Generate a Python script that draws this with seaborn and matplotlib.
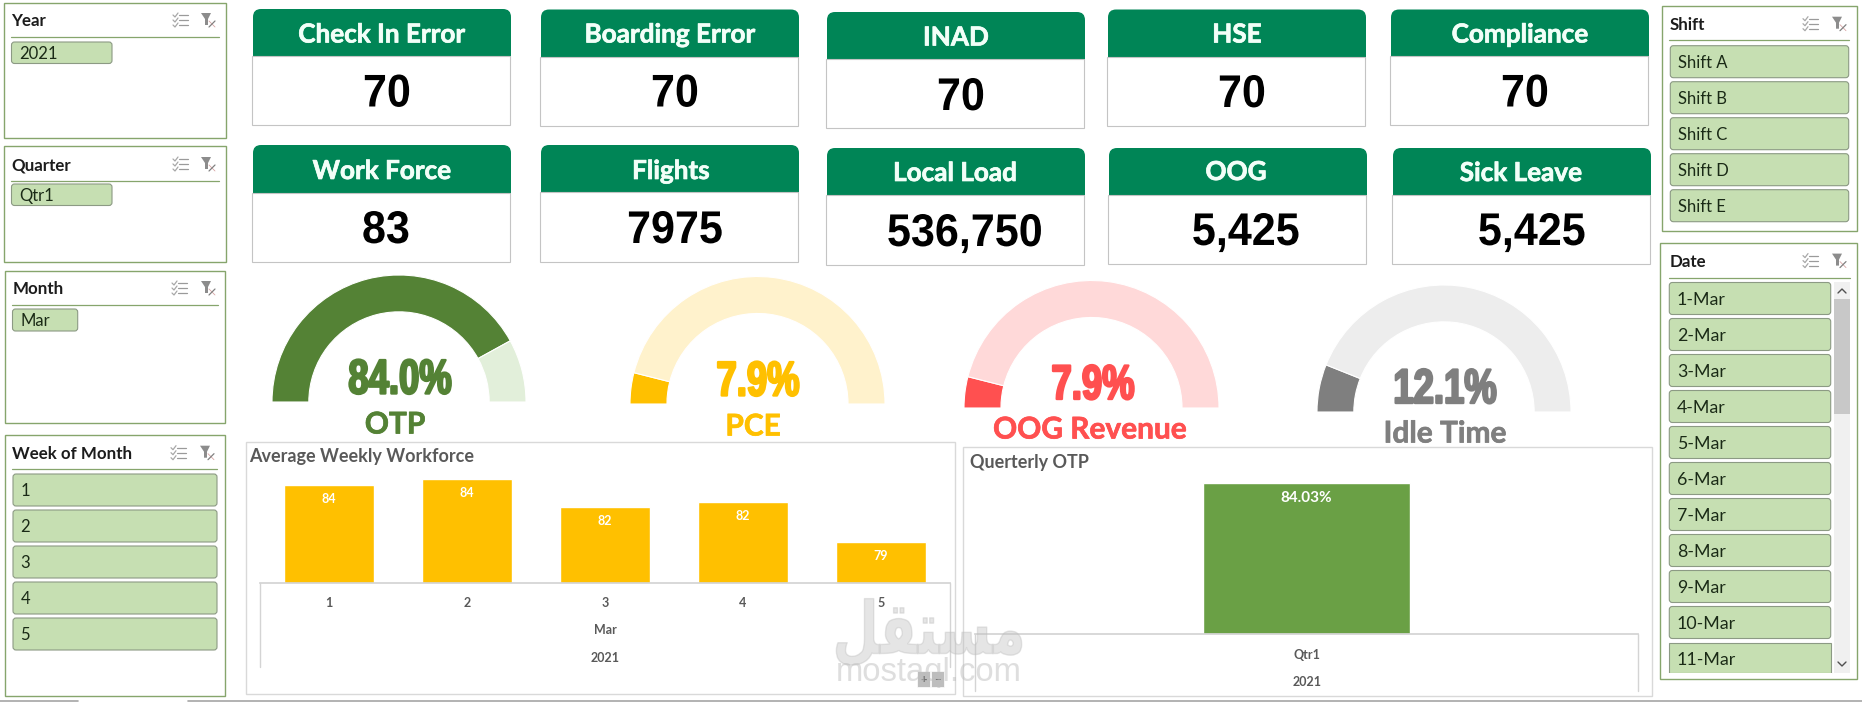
import matplotlib
matplotlib.use("Agg")
import matplotlib.pyplot as plt
from matplotlib import patheffects as pe
from matplotlib.patches import FancyBboxPatch, Rectangle, Polygon
from matplotlib.transforms import Affine2D
import seaborn as sns

# KPI cards
card_titles = ["Check In Error", "Boarding Error", "INAD", "HSE", "Compliance",
               "Work Force", "Flights", "Local Load", "OOG", "Sick Leave"]
card_values = ["70", "70", "70", "70", "70", "83", "7975", "536,750", "5,425", "5,425"]

# Half-doughnut gauges
gauge_names = ["OTP", "PCE", "OOG Revenue", "Idle Time"]
gauge_percent = [84.0, 7.9, 7.9, 12.1]

# Average Weekly Workforce
weeks = ["1", "2", "3", "4", "5"]
weekly_workforce = [83.9, 84.4, 82.0, 82.4, 79.0]

# Querterly OTP
quarters = ["Qtr1"]
quarterly_otp = [84.03]

# Slicers
year_items = ["2021"]
quarter_items = ["Qtr1"]
month_items = ["Mar"]
week_items = ["1", "2", "3", "4", "5"]
shift_items = ["Shift A", "Shift B", "Shift C", "Shift D", "Shift E"]
date_items = ["1-Mar", "2-Mar", "3-Mar", "4-Mar", "5-Mar", "6-Mar", "7-Mar",
              "8-Mar", "9-Mar", "10-Mar", "11-Mar"]

W, H = 1862, 702
GREEN = "#008556"
BTN = "#C6DFB2"
BTN_EDGE = "#8C9A84"
SLICER_EDGE = "#86A56C"
GRID = "#D4D4D4"
TXT = "#595959"
ARIAL = "Liberation Sans"


class Condensed(pe.AbstractPathEffect):
    """Narrow the glyph outlines about a vertical line, with an optional outline weight."""

    def __init__(self, factor, centre_px, stroke=0.0):
        super().__init__()
        self.factor = factor
        self.centre_px = centre_px
        self.stroke = stroke

    def draw_path(self, renderer, gc, tpath, affine, rgbFace=None):
        squeeze = Affine2D().translate(-self.centre_px, 0).scale(self.factor, 1).translate(self.centre_px, 0)
        gc0 = renderer.new_gc()
        gc0.copy_properties(gc)
        if self.stroke:
            gc0.set_foreground(rgbFace)
            gc0.set_linewidth(self.stroke)
        renderer.draw_path(gc0, tpath, affine + squeeze, rgbFace)
        gc0.restore()


sns.set_theme(style="white")
plt.rcParams["font.family"] = ["Lato", "DejaVu Sans"]

fig = plt.figure(figsize=(W / 100, H / 100), dpi=100, facecolor="white")
page = fig.add_axes([0, 0, 1, 1], zorder=0)
page.set_xlim(0, W)
page.set_ylim(H, 0)
page.axis("off")


def px_axes(x0, y0, x1, y1, zorder=2):
    """Axes placed by its pixel box, y measured from the top."""
    ax = fig.add_axes([x0 / W, 1 - y1 / H, (x1 - x0) / W, (y1 - y0) / H], zorder=zorder)
    ax.patch.set_alpha(0)
    return ax


def frame(x0, y0, x1, y1, ec, lw=1.0, fc="white", z=1):
    page.add_patch(Rectangle((x0, y0), x1 - x0, y1 - y0, fc=fc, ec=ec, lw=lw, zorder=z))


def rounded(x0, y0, x1, y1, fc, ec="none", lw=0.8, r=3, z=2):
    page.add_patch(FancyBboxPatch((x0 + r, y0 + r), x1 - x0 - 2 * r, y1 - y0 - 2 * r,
                                  boxstyle=f"round,pad={r},rounding_size={r}",
                                  fc=fc, ec=ec, lw=lw, zorder=z))


def slicer_icons(x1, x2, y):
    # multi-select toggle
    for dy in (-5, 0, 5):
        page.plot([x1 - 2, x1 + 7], [y + dy, y + dy], color="#9A9A9A", lw=0.9, zorder=3)
        page.plot([x1 - 8, x1 - 6, x1 - 3], [y + dy, y + dy + 2, y + dy - 2],
                  color="#A8A8A8", lw=0.9, zorder=3)
    # clear-filter funnel
    page.add_patch(Polygon([(x2 - 7, y - 7), (x2 + 3, y - 7), (x2, y - 1), (x2, y + 5), (x2 - 3, y + 5), (x2 - 3, y - 1)],
                           fc="#8C8C8C", ec="none", zorder=3))
    page.plot([x2 + 1, x2 + 7], [y + 1, y + 7], color="#B04A4A", lw=0.6, alpha=.5, zorder=3)
    page.plot([x2 + 1, x2 + 7], [y + 7, y + 1], color="#808080", lw=0.9, zorder=3)


def slicer(box, title, title_y, rule_y, rule_x, icon_x, items, btn_x, btn_y0,
           btn_h=32, step=36, tx_off=7.5, clip_y=None, title_size=12.2, item_size=12.0):
    x0, y0, x1, y1 = box
    frame(x0, y0, x1, y1, SLICER_EDGE, lw=1.0)
    page.text(rule_x[0] + 0.5, title_y + 1.5, title, fontsize=title_size, fontweight="bold", color="#1C1C1C",
              va="center", ha="left", zorder=3)
    page.plot(rule_x, [rule_y, rule_y], color=SLICER_EDGE, lw=0.9, zorder=3)
    slicer_icons(icon_x[0], icon_x[1], title_y)
    for i, label in enumerate(items):
        top = btn_y0 + i * step
        bottom = top + btn_h
        if clip_y is not None and bottom > clip_y:
            # the last visible button is cut by the list window
            page.add_patch(Rectangle((btn_x[0], top), btn_x[1] - btn_x[0], clip_y - top,
                                     fc=BTN, ec=BTN_EDGE, lw=0.8, zorder=2))
            page.add_patch(Rectangle((btn_x[0] - 1, clip_y), btn_x[1] - btn_x[0] + 2, 3,
                                     fc="white", ec="none", zorder=2.5))
        else:
            rounded(btn_x[0], top, btn_x[1], bottom, BTN, BTN_EDGE)
        page.text(btn_x[0] + tx_off, (top + bottom) / 2 + 1.5, label, fontsize=item_size,
                  color="#1A2A16", va="center", ha="left", zorder=3)


# Left-hand slicers
slicer((3.5, 3, 226, 138), "Year", 20, 37.3, (11, 219), (181, 208), year_items, (11.5, 112), 42, btn_h=21.5)
slicer((3.5, 146, 226, 262), "Quarter", 164, 181.3, (11, 219), (181, 208), quarter_items, (11.5, 112), 184, btn_h=21.5)
slicer((4.5, 271, 225, 423), "Month", 288, 305, (12, 218), (180, 208), month_items, (12.5, 77.7), 309, btn_h=22)
slicer((4.5, 435, 224.5, 696), "Week of Month", 452.7, 469, (12, 217), (179, 207), week_items, (13, 217), 474)

# Right-hand slicers
slicer((1661.7, 6.3, 1856.7, 231.5), "Shift", 23.7, 40.3, (1669, 1849), (1811, 1839), shift_items, (1670.3, 1848.7), 45.7)
slicer((1660, 242.7, 1857, 679), "Date", 260.6, 277.6, (1669, 1850), (1811, 1839), date_items, (1669.3, 1830.7), 282.5,
       clip_y=673, item_size=12.8)

# Date list scrollbar
page.add_patch(Rectangle((1834, 282), 16, 391, fc="#F0F0F0", ec="none", zorder=2))
page.add_patch(Rectangle((1834, 299), 16, 115, fc="#C8C8C8", ec="none", zorder=2.2))
page.plot([1838, 1842, 1846], [293, 289, 293], color="#505050", lw=1.0, zorder=3)
page.plot([1838, 1842, 1846], [662, 666, 662], color="#505050", lw=1.0, zorder=3)

# KPI card boxes: x0, x1, header top, header bottom, body bottom
card_boxes = [
    (253, 511, 9, 56, 125), (541, 799, 9.5, 57, 126), (827, 1085, 12, 59, 128),
    (1108, 1366, 9.5, 57, 126), (1391, 1649, 9.5, 56, 125),
    (253, 511, 145, 193, 262), (541, 799, 145, 192, 262), (827, 1085, 148, 195, 265),
    (1109, 1367, 148, 195, 264), (1393, 1651, 148, 195, 264),
]
title_pos = [(382, 34.5), (670, 34.5), (956, 37.5), (1237, 34.5), (1520, 34.5),
             (382, 171), (671, 171), (955, 173), (1236, 172), (1521, 173)]
value_pos = [(387, 94.5), (675, 94.5), (961, 98), (1242, 95), (1525, 94.5),
             (386, 231), (675, 231), (965, 234), (1246, 233), (1532, 233)]

for box, title, value, tp, vp in zip(card_boxes, card_titles, card_values, title_pos, value_pos):
    x0, x1, yt, ym, yb = box
    rounded(x0, yt, x1, ym + 8, GREEN, r=8, z=1.5)
    page.add_patch(Rectangle((x0 - 1, ym), x1 - x0, yb - ym, fc="white", ec="#C4C4C4", lw=0.8, zorder=1.8))
    page.text(tp[0], tp[1], title, fontsize=18.8, fontweight="bold", color="#F2FFF8",
              ha="center", va="center", zorder=3,
              path_effects=[pe.withStroke(linewidth=0.5, foreground="#F2FFF8")])
    page.text(vp[0], vp[1], value, fontsize=33, fontweight="bold", family=ARIAL, color="black",
              ha="center", va="center", zorder=3, path_effects=[Condensed(0.94, vp[0])])

# Half-doughnut gauges: centre x, base y, radius
gauge_geo = [(399, 402, 127), (757.5, 404, 127.5), (1091.5, 408, 127.5), (1444, 412, 127)]
gauge_colors = [("#548235", "#E2EFDA"), ("#FFC000", "#FFF2CC"), ("#FF5050", "#FFD9D9"), ("#7F7F7F", "#EDEDED")]
pct_pos = [(400, 381), (758, 383), (1093, 386.5), (1445, 390.5)]
name_pos = [(395, 424.5), (753, 426.5), (1090, 429.5), (1445, 433.5)]

for name, pct, geo, cols, pp, np_ in zip(gauge_names, gauge_percent, gauge_geo, gauge_colors, pct_pos, name_pos):
    cx, cy, r = geo
    ax = px_axes(cx - r, cy - r, cx + r, cy + r)
    # the lower half of the doughnut stays hidden
    wedges, _ = ax.pie([pct, 100 - pct, 100], colors=[cols[0], cols[1], "white"], startangle=180, counterclock=False,
                       radius=1, wedgeprops=dict(width=0.29, edgecolor="white", linewidth=0.8))
    wedges[2].set_visible(False)
    ax.set_xlim(-1, 1)
    ax.set_ylim(-1, 1)
    ax.set_aspect("auto")
    page.text(pp[0], pp[1], f"{pct:.1f}%", fontsize=35, fontweight="bold", family=ARIAL, color=cols[0],
              ha="center", va="center", zorder=3, path_effects=[Condensed(0.75, pp[0], stroke=1.7)])
    page.text(np_[0], np_[1], name, fontsize=21.5, fontweight="bold", color=cols[0],
              ha="center", va="center", zorder=3,
              path_effects=[pe.withStroke(linewidth=0.5, foreground=cols[0])])

# Average Weekly Workforce panel
frame(245.5, 442, 955, 694, "#D9D9D9", lw=1.0)
page.text(249.5, 456.5, "Average Weekly Workforce", fontsize=13, fontweight="bold", color=TXT,
          ha="left", va="center", zorder=3)
ax1 = px_axes(260, 470, 950, 583)
sns.barplot(x=weeks, y=weekly_workforce, color="#FFC000", saturation=1, width=0.645, errorbar=None, ax=ax1)
ax1.set_ylim(75.43, 85.18)
ax1.set_xlim(-0.5, 4.5)
ax1.set_yticks([])
ax1.set_xlabel("")
ax1.set_ylabel("")
sns.despine(ax=ax1, left=True)
ax1.spines["bottom"].set_color(GRID)
ax1.tick_params(axis="x", length=0, pad=10, labelsize=9, labelcolor=TXT)
for t in ax1.get_xticklabels():
    t.set_fontweight("bold")
ax1.bar_label(ax1.containers[0], fmt="%.0f", padding=-14.5, color="white", fontsize=9, fontweight="bold")
for xv in (260, 950):
    page.plot([xv, xv], [583, 667], color=GRID, lw=1.0, zorder=1.5)
page.text(605, 630, "Mar", fontsize=9, fontweight="bold", color=TXT, ha="center", va="center", zorder=3)
page.text(605, 657.7, "2021", fontsize=9, fontweight="bold", color=TXT, ha="center", va="center", zorder=3)

# Pivot chart expand/collapse buttons
for bx, sym in ((917, "+"), (931, "\u2212")):
    page.add_patch(Rectangle((bx, 671), 13, 16, fc="#BDBDBD", ec="white", lw=0.5, zorder=3))
    page.text(bx + 6.5, 679, sym, fontsize=8, fontweight="bold", color="#6E6E6E", ha="center", va="center", zorder=3.1)

# Querterly OTP panel
frame(962.6, 446.7, 1652, 696, "#D9D9D9", lw=1.0)
page.text(970.5, 462.5, "Querterly OTP", fontsize=13, fontweight="bold", color=TXT, ha="left", va="center", zorder=3)
ax2 = px_axes(975, 469.8, 1638, 634)
sns.barplot(x=quarters, y=quarterly_otp, color="#6AA045", saturation=1, width=0.312, errorbar=None, ax=ax2)
ax2.set_ylim(0, 91.5)
ax2.set_xlim(-0.5, 0.5)
ax2.set_yticks([])
ax2.set_xlabel("")
ax2.set_ylabel("")
sns.despine(ax=ax2, left=True)
ax2.spines["bottom"].set_color(GRID)
ax2.tick_params(axis="x", length=0, pad=11, labelsize=9, labelcolor=TXT)
for t in ax2.get_xticklabels():
    t.set_fontweight("bold")
ax2.bar_label(ax2.containers[0], labels=[f"{v:.2f}%" for v in quarterly_otp], padding=-16,
              color="white", fontsize=11, fontweight="bold")
for xv in (975, 1638):
    page.plot([xv, xv], [634, 691], color=GRID, lw=1.0, zorder=1.5)
page.text(1307, 681.7, "2021", fontsize=9, fontweight="bold", color=TXT, ha="center", va="center", zorder=3)

# Sheet tab strip along the bottom edge
page.plot([0, 78], [700.5, 700.5], color="#A6A6A6", lw=1.2, zorder=3)
page.plot([188, W], [700.5, 700.5], color="#A6A6A6", lw=1.2, zorder=3)

# Site mark over the lower middle of the dashboard
mark = fig.add_axes([0, 0, 1, 1], zorder=5)
mark.set_xlim(0, W)
mark.set_ylim(H, 0)
mark.axis("off")
mark.text(929, 634, "\ufede\ufed8\ufe98\ufeb4\ufee3", family="DejaVu Sans", fontweight="bold", fontsize=52,
          color="#BEBEBE", alpha=0.4, ha="center", va="center", path_effects=[Condensed(0.73, 929, stroke=1.0)])
mark.text(929, 672, "mostaql.com", family=ARIAL, fontsize=23.6, color="#BEBEBE", alpha=0.5,
          ha="center", va="center")

fig.savefig("out.png", dpi=100, facecolor="white")
